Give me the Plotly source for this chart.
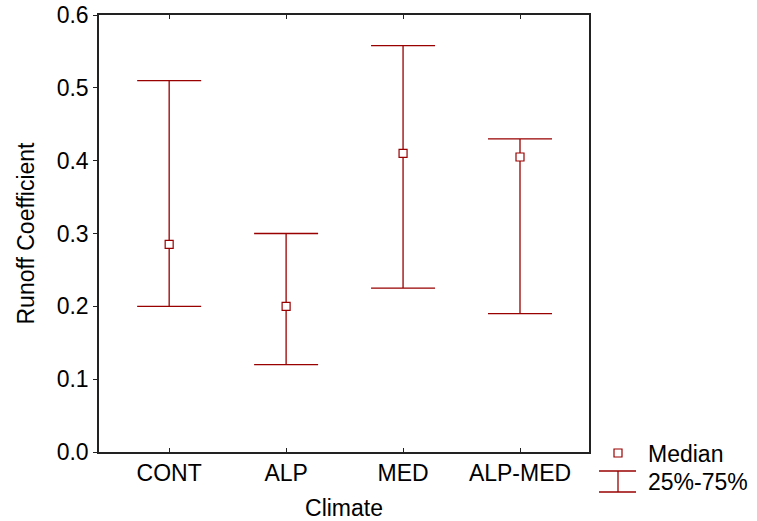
import plotly.graph_objects as go

categories = ["CONT", "ALP", "MED", "ALP-MED"]
median = [0.285, 0.200, 0.410, 0.405]
q25 = [0.200, 0.120, 0.225, 0.190]
q75 = [0.510, 0.300, 0.558, 0.430]
y_ticks = [0.0, 0.1, 0.2, 0.3, 0.4, 0.5, 0.6]
y_tick_labels = ["0.0", "0.1", "0.2", "0.3", "0.4", "0.5", "0.6"]

RED = "#990000"
FONT = "Liberation Sans, Arial, sans-serif"
FS = 23

x_idx = list(range(len(categories)))
err_plus = [hi - m for hi, m in zip(q75, median)]
err_minus = [m - lo for m, lo in zip(median, q25)]

fig = go.Figure()
fig.add_trace(go.Scatter(
    x=x_idx, y=median, mode="markers",
    marker=dict(symbol="square", size=8, color="white", line=dict(color=RED, width=1.2)),
    error_y=dict(type="data", symmetric=False, array=err_plus, arrayminus=err_minus,
                 color=RED, thickness=1.3, width=32),
    showlegend=False,
))

# Legend (drawn manually in paper coordinates)
W, H = 757, 521
ml, mr, mt, mb = 99, 168, 15, 69
pw, ph = W - ml - mr, H - mt - mb

def px(x):
    return (x - ml) / pw

def py(y):
    return (H - mb - y) / ph

shapes = [
    dict(type="rect", xref="paper", yref="paper", x0=px(614), x1=px(622), y0=py(457), y1=py(449),
         line=dict(color=RED, width=1.2), fillcolor="white"),
    dict(type="line", xref="paper", yref="paper", x0=px(599), x1=px(636), y0=py(471), y1=py(471),
         line=dict(color=RED, width=1.3)),
    dict(type="line", xref="paper", yref="paper", x0=px(599), x1=px(636), y0=py(492), y1=py(492),
         line=dict(color=RED, width=1.3)),
    dict(type="line", xref="paper", yref="paper", x0=px(618), x1=px(618), y0=py(471), y1=py(492),
         line=dict(color=RED, width=1.3)),
]
annotations = [
    dict(text="Median", xref="paper", yref="paper", x=px(646), y=py(454), xanchor="left",
         yanchor="middle", showarrow=False, font=dict(family=FONT, size=FS, color="black")),
    dict(text="25%-75%", xref="paper", yref="paper", x=px(646), y=py(482), xanchor="left",
         yanchor="middle", showarrow=False, font=dict(family=FONT, size=FS, color="black")),
]

fig.update_layout(
    width=W, height=H,
    margin=dict(l=ml, r=mr, t=mt, b=mb, autoexpand=False),
    paper_bgcolor="white", plot_bgcolor="white",
    font=dict(family=FONT, size=FS, color="black"),
    shapes=shapes, annotations=annotations,
    xaxis=dict(
        range=[-0.6, 3.59], tickmode="array", tickvals=x_idx, ticktext=categories,
        ticks="inside", ticklen=4, tickcolor="#222", mirror="ticks", automargin=False,
        showline=True, linecolor="#222", linewidth=1.5, showgrid=False, zeroline=False,
        title=dict(text="Climate", standoff=15, font=dict(size=FS)),
    ),
    yaxis=dict(
        range=[0, 0.6], tickmode="array", tickvals=y_ticks, ticktext=y_tick_labels,
        ticks="outside", ticklen=4, tickcolor="#222", mirror=True, automargin=False,
        showline=True, linecolor="#222", linewidth=1.5, showgrid=False, zeroline=False,
        title=dict(text="Runoff Coefficient", standoff=16, font=dict(size=FS)),
    ),
)

fig.write_html("out.html")
